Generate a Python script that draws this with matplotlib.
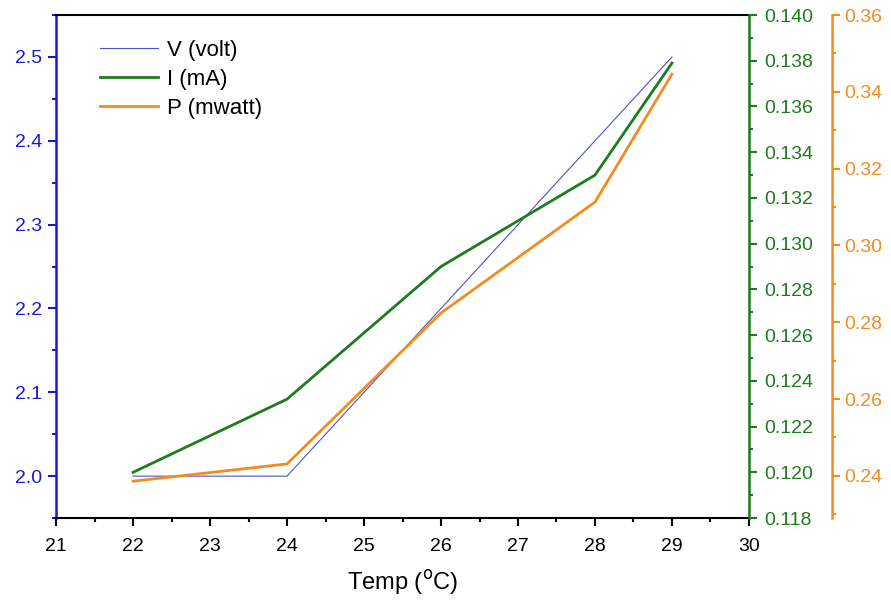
import matplotlib.pyplot as plt
from matplotlib.ticker import MultipleLocator

plt.rcParams['font.family'] = ['Liberation Sans', 'DejaVu Sans']

temp = [22, 24, 26, 28, 29]
volt = [2.0, 2.0, 2.2, 2.4, 2.5]
current = [0.1200, 0.1232, 0.1290, 0.1330, 0.1379]
power = [0.2386, 0.2431, 0.2824, 0.3113, 0.3446]

blue = '#1a1acc'
green = '#1e7b1e'
orange = '#f28c1e'

fig = plt.figure(figsize=(8.91, 6.01), dpi=100)
ax = fig.add_axes([0.0629, 0.138, 0.7777, 0.837])
ax2 = ax.twinx()
ax3 = ax.twinx()
ax3.spines['right'].set_position(('axes', 1.12))

l1, = ax.plot(temp, volt, color='#5050c8', lw=0.8, label='V (volt)')
l2, = ax2.plot(temp, current, color=green, lw=2, label='I (mA)')
l3, = ax3.plot(temp, power, color=orange, lw=2, label='P (mwatt)')

ax.set_xlim(21, 30)
ax.set_ylim(1.95, 2.55)
ax2.set_ylim(0.118, 0.140)
ax3.set_ylim(0.229, 0.36)

ax.xaxis.set_major_locator(MultipleLocator(1))
ax.xaxis.set_minor_locator(MultipleLocator(0.5))
ax.yaxis.set_major_locator(MultipleLocator(0.1))
ax.yaxis.set_minor_locator(MultipleLocator(0.05))
ax2.yaxis.set_major_locator(MultipleLocator(0.002))
ax2.yaxis.set_minor_locator(MultipleLocator(0.001))
ax2.yaxis.set_major_formatter(plt.FormatStrFormatter('%.3f'))
ax3.yaxis.set_major_locator(MultipleLocator(0.02))
ax3.yaxis.set_minor_locator(MultipleLocator(0.01))
ax3.yaxis.set_major_formatter(plt.FormatStrFormatter('%.2f'))

ax.set_xlabel('Temp ($^{\\rm o}$C)', fontsize=17, labelpad=10)

ax.spines['left'].set_color(blue)
ax.spines['left'].set_linewidth(1.8)
ax.tick_params(axis='y', colors=blue, labelsize=14, width=1.5, length=6, pad=4)
ax.tick_params(axis='y', which='minor', colors=blue, width=1.5, length=3)
ax.tick_params(axis='x', labelsize=14, width=1.5, length=6, pad=8)
ax.tick_params(axis='x', which='minor', width=1.5, length=3)
ax.spines['bottom'].set_linewidth(1.5)
ax.spines['top'].set_linewidth(1.5)

for a, c, p in [(ax2, green, 5), (ax3, orange, 3)]:
    a.spines['right'].set_color(c)
    a.spines['right'].set_linewidth(1.8)
    a.spines['left'].set_visible(False)
    a.spines['top'].set_visible(False)
    a.spines['bottom'].set_visible(False)
    a.tick_params(axis='y', colors=c, labelsize=14, width=1.5, length=6, pad=p)
    a.tick_params(axis='y', which='minor', colors=c, width=1.5, length=3)

ax.legend(handles=[l1, l2, l3], loc='upper left', frameon=False, fontsize=16,
          handlelength=2.6, handletextpad=0.4, labelspacing=0.35,
          bbox_to_anchor=(0.035, 0.99))

fig.savefig('out.png', dpi=100)
